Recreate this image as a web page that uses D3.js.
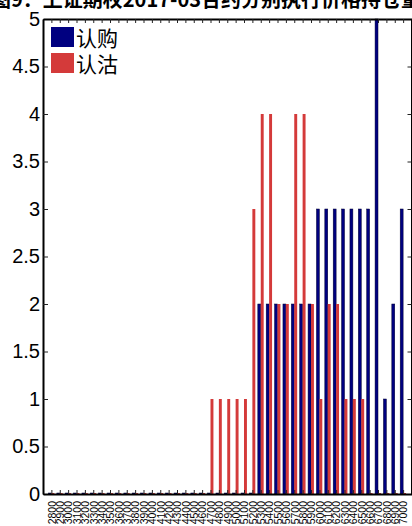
<!DOCTYPE html>
<html><head><meta charset="utf-8">
<script src="https://cdn.jsdelivr.net/npm/d3@7"></script>
<style>body{margin:0;background:#fff}svg{display:block}</style>
</head><body>
<svg id="c" width="412" height="526"></svg>
<script>
// ---- data ----
const strikes = [2800,2900,3000,3100,3200,3300,3400,3500,3600,3700,3800,3900,4000,4100,4200,4300,4400,4500,4600,4700,4800,4900,5000,5100,5200,5300,5400,5500,5600,5700,5800,5900,6000,6100,6200,6300,6400,6500,6600,6700,6800,6900,7000];
const callValues = [0,0,0,0,0,0,0,0,0,0,0,0,0,0,0,0,0,0,0,0,0,0,0,0,0,2,2,2,2,2,2,2,3,3,3,3,3,3,3,5,1,2,3];
const putValues  = [0,0,0,0,0,0,0,0,0,0,0,0,0,0,0,0,0,0,0,1,1,1,1,1,3,4,4,2,2,4,4,2,1,2,2,1,1,1,0,0,0,0,0];
const yTickValues = [0,0.5,1,1.5,2,2.5,3,3.5,4,4.5,5];
const seriesNames = ["认购","认沽"];
const titleText = "图9：上证期权2017-03合约分别执行价格持仓量";

const colors = ["#000080","#d43a3a"];
const svg = d3.select("#c");
const L=43, R=411.5, T=19, B=494;
const x = d3.scaleLinear().domain([0, strikes.length+1]).range([L,R]);
const y = d3.scaleLinear().domain([0,5]).range([B,T]);
const bw = 0.35; // bar width in category units

// title (top is cut off in the reference)
svg.append("text").attr("x",206).attr("y",7).attr("text-anchor","middle")
  .attr("font-family","'Noto Sans CJK SC'").attr("font-weight","bold").attr("font-size",20)
  .attr("fill","#000").text(titleText);

// bars
const series = [callValues, putValues];
series.forEach((vals, s) => {
  svg.append("g").selectAll("rect").data(vals).join("rect")
    .attr("x", (d,i) => s===0 ? x(i+1-bw) : x(i+1))
    .attr("width", x(bw)-x(0))
    .attr("y", d => Math.min(y(d), B-1))
    .attr("height", d => Math.max(B - y(d), 1))
    .attr("fill", colors[s])
    .attr("stroke", s===0 ? "#000030" : "none").attr("stroke-width", 0.5);
});

// axes
const fontNum = "Arial, 'Liberation Sans', sans-serif";
const yAx = svg.append("g").attr("transform",`translate(${L},0)`)
  .call(d3.axisLeft(y).tickValues(yTickValues).tickFormat(d=>d).tickSizeInner(-5).tickSizeOuter(0).tickPadding(3));
yAx.selectAll("text").attr("font-family",fontNum).attr("font-size",20).attr("fill","#000");
const yAxR = svg.append("g").attr("transform",`translate(${R},0)`)
  .call(d3.axisRight(y).tickValues(yTickValues).tickFormat("").tickSizeInner(-4).tickSizeOuter(0));
const xAx = svg.append("g").attr("transform",`translate(0,${B})`)
  .call(d3.axisBottom(x).tickValues(d3.range(1,strikes.length+1)).tickFormat(d=>strikes[d-1]).tickSizeInner(-4).tickSizeOuter(0));
xAx.selectAll("text").attr("transform","rotate(-90)").attr("x",-7).attr("y",0).attr("dy","0.36em")
  .attr("text-anchor","end").attr("font-family",fontNum).attr("font-size",10.5).attr("fill","#000");
const xAxT = svg.append("g").attr("transform",`translate(0,${T})`)
  .call(d3.axisTop(x).tickValues(d3.range(1,strikes.length+1)).tickFormat("").tickSizeInner(-4).tickSizeOuter(0));
[yAx,yAxR,xAx,xAxT].forEach(g=>{g.select(".domain").attr("stroke","#000").attr("stroke-width",2);g.selectAll(".tick line").attr("stroke","#222");});

// legend
const lg = svg.append("g");
seriesNames.forEach((n,i)=>{
  lg.append("rect").attr("x",51).attr("y",27+i*26).attr("width",23).attr("height",20).attr("fill",colors[i]);
  lg.append("text").attr("x",76).attr("y",46+i*26).attr("font-family","'Noto Sans CJK SC'").attr("font-size",21).attr("fill","#000").text(n);
});
</script>
</body></html>
